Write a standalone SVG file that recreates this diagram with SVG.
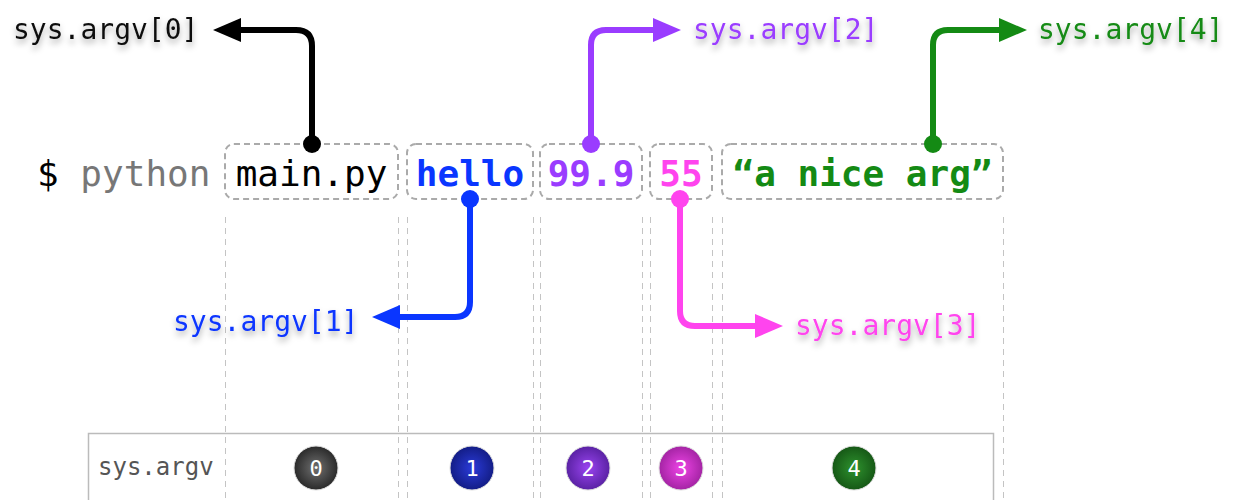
<svg xmlns="http://www.w3.org/2000/svg" width="1234" height="500" viewBox="0 0 1234 500">
<style>
.mono{font-family:"DejaVu Sans Mono","Liberation Mono",monospace}
.cmd{font-size:36px}
.arg{font-size:36px;font-weight:bold;text-anchor:middle}
.box{fill:none;stroke:#aaa;stroke-width:2;stroke-dasharray:6,4}
.guide{stroke:#c4c4c4;stroke-width:1;stroke-dasharray:6,5;fill:none}
.lbl{font-size:28px;filter:url(#sh)}
.conn{fill:none;stroke-width:6;stroke-linecap:butt;stroke-linejoin:round}
.num{font-size:22px;fill:#fff;text-anchor:middle}
</style>
<defs>
<filter id="sh" x="-10%" y="-30%" width="120%" height="180%">
<feDropShadow dx="0" dy="4" stdDeviation="3" flood-color="#000" flood-opacity="0.35"/>
</filter>
<marker id="mk0" viewBox="0 0 28 24" refX="2" refY="12" markerWidth="28" markerHeight="24" markerUnits="userSpaceOnUse" orient="auto"><path d="M0,0 L28,12 L0,24 z" fill="#000"/></marker>
<marker id="mk1" viewBox="0 0 28 24" refX="2" refY="12" markerWidth="28" markerHeight="24" markerUnits="userSpaceOnUse" orient="auto"><path d="M0,0 L28,12 L0,24 z" fill="#0a36ff"/></marker>
<marker id="mk2" viewBox="0 0 28 24" refX="2" refY="12" markerWidth="28" markerHeight="24" markerUnits="userSpaceOnUse" orient="auto"><path d="M0,0 L28,12 L0,24 z" fill="#9a3cff"/></marker>
<marker id="mk3" viewBox="0 0 28 24" refX="2" refY="12" markerWidth="28" markerHeight="24" markerUnits="userSpaceOnUse" orient="auto"><path d="M0,0 L28,12 L0,24 z" fill="#ff44ee"/></marker>
<marker id="mk4" viewBox="0 0 28 24" refX="2" refY="12" markerWidth="28" markerHeight="24" markerUnits="userSpaceOnUse" orient="auto"><path d="M0,0 L28,12 L0,24 z" fill="#148a14"/></marker>
<radialGradient id="g0" cx="50%" cy="50%" r="50%"><stop offset="0" stop-color="#707070"/><stop offset="1" stop-color="#2a2a2a"/></radialGradient>
<radialGradient id="g1" cx="50%" cy="50%" r="50%"><stop offset="0" stop-color="#2a3ad8"/><stop offset="1" stop-color="#131d86"/></radialGradient>
<radialGradient id="g2" cx="50%" cy="50%" r="50%"><stop offset="0" stop-color="#9a44f0"/><stop offset="1" stop-color="#5a22a4"/></radialGradient>
<radialGradient id="g3" cx="50%" cy="50%" r="50%"><stop offset="0" stop-color="#ee44e6"/><stop offset="1" stop-color="#a424a4"/></radialGradient>
<radialGradient id="g4" cx="50%" cy="50%" r="50%"><stop offset="0" stop-color="#2e922e"/><stop offset="1" stop-color="#165816"/></radialGradient>
</defs>
<rect width="1234" height="500" fill="#fff"/>

<g id="guides">
<path class="guide" d="M225.5,217V500 M398.5,217V500 M407.5,217V500 M533.5,217V500 M540.5,217V500 M642.5,217V500 M650.5,217V500 M712.5,217V500 M722.5,217V500 M1003.5,217V500"/>
</g>

<g id="table">
<rect x="88.5" y="433.5" width="905" height="90" fill="none" stroke="#bbb" stroke-width="1.5"/>
<text class="mono" x="98" y="475" font-size="24" fill="#555">sys.argv</text>
</g>

<g id="prompt">
<text class="mono cmd" x="37" y="186"><tspan fill="#000">$ </tspan><tspan fill="#777">python</tspan></text>
</g>

<g id="arg0">
<rect class="box" x="225" y="144" width="173" height="55" rx="9"/>
<text class="mono cmd" x="311.5" y="186" text-anchor="middle" fill="#000">main.py</text>
</g>
<g id="arg1">
<rect class="box" x="407" y="144" width="126" height="55" rx="9"/>
<text class="mono arg" x="470" y="186" fill="#0a36ff">hello</text>
</g>
<g id="arg2">
<rect class="box" x="540" y="144" width="102" height="55" rx="9"/>
<text class="mono arg" x="591" y="186" fill="#9a3cff">99.9</text>
</g>
<g id="arg3">
<rect class="box" x="650" y="144" width="62" height="55" rx="9"/>
<text class="mono arg" x="681" y="186" fill="#ff44ee">55</text>
</g>
<g id="arg4">
<rect class="box" x="722" y="144" width="281" height="55" rx="9"/>
<text class="mono arg" x="862.5" y="186" fill="#148a14">“a nice arg”</text>
</g>

<g id="connectors">
<path class="conn" stroke="#000" d="M312,144 V46 Q312,30 296,30 H239" marker-end="url(#mk0)"/>
<circle cx="312" cy="144" r="9" fill="#000"/>
<path class="conn" stroke="#0a36ff" d="M470,199 V302 Q470,317 455,317 H398" marker-end="url(#mk1)"/>
<circle cx="470" cy="199" r="9" fill="#0a36ff"/>
<path class="conn" stroke="#9a3cff" d="M591,144 V45 Q591,30 606,30 H655" marker-end="url(#mk2)"/>
<circle cx="591" cy="144" r="9" fill="#9a3cff"/>
<path class="conn" stroke="#ff44ee" d="M680,199 V311 Q680,326 695,326 H757" marker-end="url(#mk3)"/>
<circle cx="680" cy="199" r="9" fill="#ff44ee"/>
<path class="conn" stroke="#148a14" d="M933,144 V45 Q933,30 948,30 H1001" marker-end="url(#mk4)"/>
<circle cx="933" cy="144" r="9" fill="#148a14"/>
</g>

<g id="label0"><text class="mono lbl" x="13" y="39" fill="#111">sys.argv[0]</text></g>
<g id="label1"><text class="mono lbl" x="173" y="331" fill="#0a36ff">sys.argv[1]</text></g>
<g id="label2"><text class="mono lbl" x="693" y="39" fill="#9a3cff">sys.argv[2]</text></g>
<g id="label3"><text class="mono lbl" x="795" y="335" fill="#ff44ee">sys.argv[3]</text></g>
<g id="label4"><text class="mono lbl" x="1038" y="39" fill="#148a14">sys.argv[4]</text></g>

<g id="idx0"><circle cx="316" cy="468" r="22" fill="url(#g0)" stroke="#ddd" stroke-width="1"/><text class="mono num" x="316" y="476">0</text></g>
<g id="idx1"><circle cx="472" cy="468" r="22" fill="url(#g1)" stroke="#ddd" stroke-width="1"/><text class="mono num" x="472" y="476">1</text></g>
<g id="idx2"><circle cx="588" cy="468" r="22" fill="url(#g2)" stroke="#ddd" stroke-width="1"/><text class="mono num" x="588" y="476">2</text></g>
<g id="idx3"><circle cx="681" cy="468" r="22" fill="url(#g3)" stroke="#ddd" stroke-width="1"/><text class="mono num" x="681" y="476">3</text></g>
<g id="idx4"><circle cx="854" cy="468" r="22" fill="url(#g4)" stroke="#ddd" stroke-width="1"/><text class="mono num" x="854" y="476">4</text></g>
</svg>
